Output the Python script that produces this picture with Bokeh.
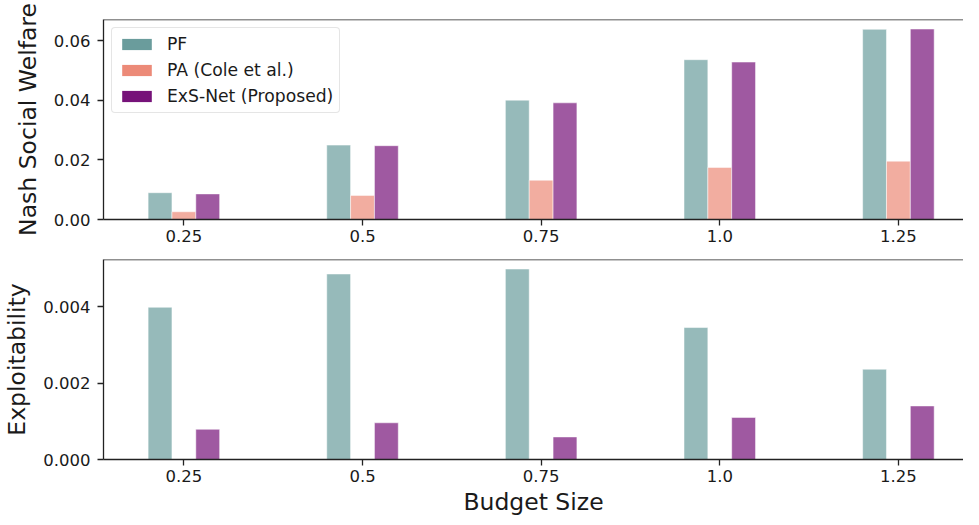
import numpy as np
from bokeh.plotting import figure
from bokeh.layouts import column
from bokeh.models import (FixedTicker, PrintfTickFormatter, Legend, LegendItem,
                          Span, Range1d, ColumnDataSource)
from bokeh.embed import file_html
from bokeh.resources import INLINE

# ---- data ----
budgets = ["0.25", "0.5", "0.75", "1.0", "1.25"]
series = ["PF", "PA (Cole et al.)", "ExS-Net (Proposed)"]
nsw_pf = [0.0090, 0.0250, 0.0401, 0.0537, 0.0639]
nsw_pa = [0.0026, 0.0081, 0.0132, 0.0175, 0.0196]
nsw_exs = [0.0086, 0.0248, 0.0392, 0.0529, 0.0640]
exp_pf = [0.00398, 0.00485, 0.00498, 0.00345, 0.00236]
exp_pa = [0.0, 0.0, 0.0, 0.0, 0.0]
exp_exs = [0.00079, 0.00096, 0.00059, 0.00110, 0.00140]
nsw_ticks = [0.0, 0.02, 0.04, 0.06]
exp_ticks = [0.0, 0.002, 0.004]

# ---- style ----
colors = ["#6a9c9c", "#ec8a78", "#761279"]
FONT = "DejaVu Sans"
W = 963
BAR_W = 0.1335
X_START = -0.45
PX_PER_UNIT = 180.5
FRAME_W = W - 94
X_END = X_START + FRAME_W / PX_PER_UNIT

idx = np.arange(len(budgets))
offsets = [-BAR_W, 0.0, BAR_W]


def make_fig(height, top_border, bottom_border, ymax, yticks, fmt, ylabel, xlabel=None):
    p = figure(width=W, height=height, output_backend="svg", toolbar_location=None,
               x_range=Range1d(X_START, X_END), y_range=Range1d(0, ymax),
               min_border_left=94, min_border_right=0,
               min_border_top=top_border, min_border_bottom=bottom_border)
    p.outline_line_color = None
    p.xgrid.visible = False
    p.ygrid.visible = False
    p.background_fill_color = "white"
    p.border_fill_color = "white"

    p.xaxis.ticker = FixedTicker(ticks=list(idx))
    p.xaxis.major_label_overrides = {int(i): b for i, b in zip(idx, budgets)}
    p.yaxis.ticker = FixedTicker(ticks=yticks)
    p.yaxis.formatter = PrintfTickFormatter(format=fmt)
    for ax in (p.xaxis, p.yaxis):
        ax.axis_line_color = "#222222"
        ax.axis_line_width = 1.3
        ax.major_tick_line_color = "#222222"
        ax.major_tick_line_width = 1.3
        ax.major_tick_out = 6
        ax.major_tick_in = 0
        ax.minor_tick_line_color = None
        ax.major_label_text_font = FONT
        ax.major_label_text_font_size = "16.5px"
        ax.major_label_text_color = "#1a1a1a"
        ax.axis_label_text_font = FONT
        ax.axis_label_text_font_size = "23.5px"
        ax.axis_label_text_font_style = "normal"
        ax.axis_label_text_color = "#1a1a1a"
    p.xaxis.major_label_standoff = 4
    p.yaxis.major_label_standoff = 7
    p.yaxis.axis_label = ylabel
    p.yaxis.axis_label_standoff = 9
    if xlabel:
        p.xaxis.axis_label = xlabel
        p.xaxis.axis_label_standoff = 3

    p.add_layout(Span(location=ymax, dimension="width", line_color="#222222", line_width=1.3))
    return p


def add_bars(p, vals_list):
    for vals, off, c in zip(vals_list, offsets, colors):
        src = ColumnDataSource(dict(x=idx + off, top=vals))
        p.vbar(x="x", top="top", width=BAR_W, bottom=0, source=src,
               fill_color=c, fill_alpha=0.7, line_color="white", line_alpha=0.5, line_width=1)


# top panel
nsw_max = max(max(nsw_pf), max(nsw_pa), max(nsw_exs)) * 1.05
p1 = make_fig(249, 19, 30, nsw_max, nsw_ticks, "%.2f", "Nash Social Welfare")
add_bars(p1, [nsw_pf, nsw_pa, nsw_exs])

# legend with full-colour swatches (zero-height helper bars, nothing visible on the plot)
items = []
zeros = [0.0] * len(budgets)
for name, c in zip(series, colors):
    r = p1.vbar(x=idx, top=zeros, bottom=zeros, width=BAR_W, fill_color=c, fill_alpha=1.0,
                line_color=None)
    items.append(LegendItem(label=name, renderers=[r]))
legend = Legend(items=items, location="top_left")
legend.margin = 8
legend.padding = 6
legend.spacing = 6
legend.glyph_width = 37
legend.glyph_height = 14
legend.label_height = 20
legend.label_standoff = 12
legend.label_text_font = FONT
legend.label_text_font_size = "17.2px"
legend.label_text_color = "#1a1a1a"
legend.border_line_color = "#cccccc"
legend.border_line_width = 1
legend.background_fill_color = "white"
legend.background_fill_alpha = 0.8
if "border_radius" in Legend.properties():
    legend.border_radius = 4
p1.add_layout(legend)

# bottom panel
exp_max = max(max(exp_pf), max(exp_pa), max(exp_exs)) * 1.05
p2 = make_fig(270, 10, 60, exp_max, exp_ticks, "%.3f", "Exploitability", "Budget Size")
add_bars(p2, [exp_pf, exp_pa, exp_exs])

layout = column(p1, p2, spacing=0)
open("out.html", "w").write(file_html(layout, INLINE))
